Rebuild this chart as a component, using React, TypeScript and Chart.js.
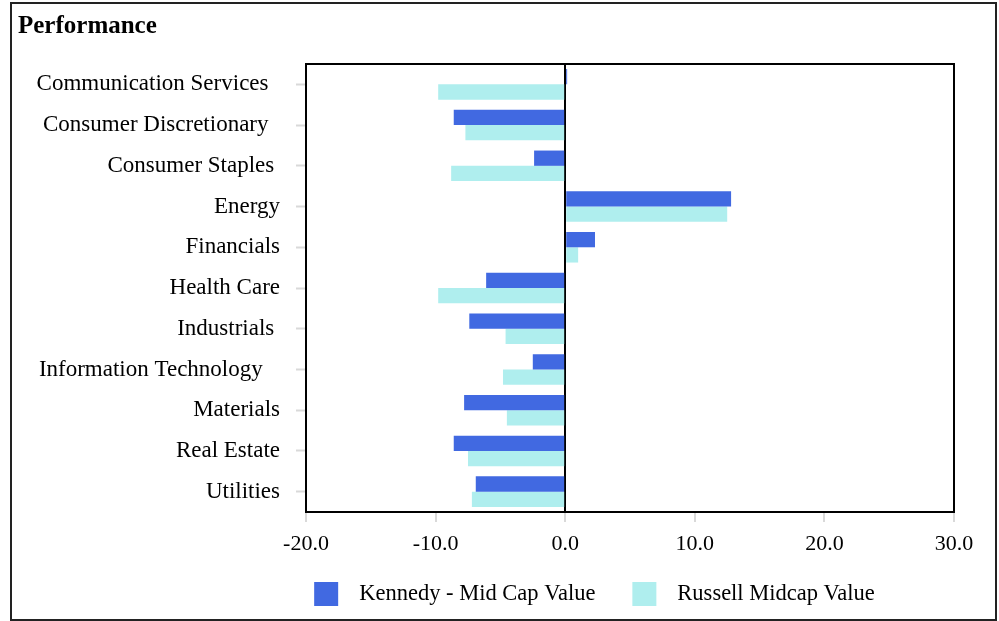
import React, { useEffect, useRef } from "react";
import { Chart, registerables } from "chart.js";

Chart.register(...registerables);

const chartTitle = "Performance";
const categories = [
  "Communication Services  ",
  "Consumer Discretionary  ",
  "Consumer Staples ",
  "Energy",
  "Financials",
  "Health Care",
  "Industrials ",
  "Information Technology   ",
  "Materials",
  "Real Estate",
  "Utilities",
];
const seriesNames = ["Kennedy - Mid Cap Value", "Russell Midcap Value"];
const kennedyValues = [0.15, -8.6, -2.4, 12.8, 2.3, -6.1, -7.4, -2.5, -7.8, -8.6, -6.9];
const russellValues = [-9.8, -7.7, -8.8, 12.5, 1.0, -9.8, -4.6, -4.8, -4.5, -7.5, -7.2];
const seriesColors = ["#4169E1", "#AFEEEE"];
const xTickValues = [-20, -10, 0, 10, 20, 30];

const FONT = '"Liberation Serif", "Times New Roman", serif';

const framePlugin = {
  id: "framePlugin",
  afterDraw(chart: any) {
    const { ctx, chartArea } = chart;
    ctx.save();
    ctx.strokeStyle = "#000";
    ctx.lineWidth = 2;
    ctx.strokeRect(
      chartArea.left,
      chartArea.top,
      chartArea.right - chartArea.left,
      chartArea.bottom - chartArea.top
    );
    ctx.fillStyle = "#000";
    ctx.font = `bold 25px ${FONT}`;
    ctx.textAlign = "left";
    ctx.textBaseline = "alphabetic";
    ctx.fillText(chartTitle, 6, 29);
    ctx.font = `22.5px ${FONT}`;
    ctx.textBaseline = "middle";
    const ds = chart.data.datasets;
    const widths = ds.map((d: any) => ctx.measureText(d.label).width);
    const box = 24;
    const gapText = 21;
    const gapItem = 37;
    let total = 0;
    widths.forEach((w: number, i: number) => {
      total += box + gapText + w + (i < widths.length - 1 ? gapItem : 0);
    });
    let x = 582.5 - total / 2;
    const cy = 590;
    ds.forEach((d: any, i: number) => {
      ctx.fillStyle = d.backgroundColor;
      ctx.fillRect(x, cy - box / 2, box, box);
      ctx.fillStyle = "#000";
      ctx.fillText(d.label, x + box + gapText, cy);
      x += box + gapText + widths[i] + gapItem;
    });
    ctx.restore();
  },
};

export default function App() {
  const canvasRef = useRef<HTMLCanvasElement | null>(null);

  useEffect(() => {
    if (!canvasRef.current) return;
    const chart = new Chart(canvasRef.current, {
      type: "bar",
      data: {
        labels: categories,
        datasets: [
          {
            label: seriesNames[0],
            data: kennedyValues,
            backgroundColor: seriesColors[0],
            borderWidth: 0,
          },
          {
            label: seriesNames[1],
            data: russellValues,
            backgroundColor: seriesColors[1],
            borderWidth: 0,
          },
        ],
      },
      options: {
        indexAxis: "y",
        animation: false,
        responsive: true,
        maintainAspectRatio: false,
        layout: { padding: { left: 0, right: 41, top: 60, bottom: 57 } },
        datasets: { bar: { categoryPercentage: 0.75, barPercentage: 1.0 } },
        plugins: {
          legend: { display: false },
          title: { display: false },
          tooltip: { enabled: false },
        },
        scales: {
          x: {
            min: -20,
            max: 30,
            afterBuildTicks: (s: any) => {
              s.ticks = xTickValues.map((v) => ({ value: v }));
            },
            afterFit: (s: any) => {
              s.height = 50;
            },
            ticks: {
              callback: (v: any) => Number(v).toFixed(1),
              font: { family: FONT, size: 22 },
              color: "#000",
              padding: 9,
              maxRotation: 0,
              autoSkip: false,
            },
            grid: {
              drawOnChartArea: true,
              color: (c: any) =>
                c.tick && c.tick.value === 0 ? "#000" : "rgba(0,0,0,0)",
              lineWidth: 2,
              tickColor: "#d9d9d9",
              tickLength: 10,
              tickWidth: 2,
            },
            border: { display: false },
          },
          y: {
            afterFit: (s: any) => {
              s.width = 294;
            },
            ticks: {
              font: { family: FONT, size: 23 },
              color: "#000",
              padding: 16,
              autoSkip: false,
            },
            grid: {
              offset: false,
              drawOnChartArea: false,
              tickColor: "#d9d9d9",
              tickLength: 10,
              tickWidth: 2,
            },
            border: { display: false },
          },
        },
      },
      plugins: [framePlugin],
    });
    return () => chart.destroy();
  }, []);

  return (
    <div
      style={{
        position: "absolute",
        left: 10,
        top: 2,
        width: 987,
        height: 619,
        border: "2px solid #222",
        boxSizing: "border-box",
        background: "#fff",
      }}
    >
      <div style={{ position: "relative", width: 983, height: 615 }}>
        <canvas ref={canvasRef} />
      </div>
    </div>
  );
}
